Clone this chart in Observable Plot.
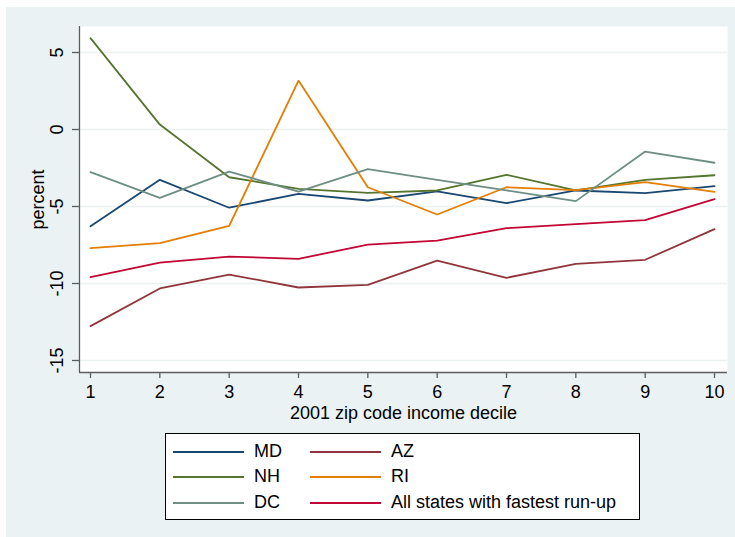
<!DOCTYPE html>
<html>
<head>
<meta charset="utf-8">
<script src="https://cdn.jsdelivr.net/npm/d3@7"></script>
<script src="https://cdn.jsdelivr.net/npm/@observablehq/plot@0.6"></script>
<style>
  html, body { margin: 0; padding: 0; background: #ffffff; }
  #page { position: absolute; left: 0; top: 0; width: 735px; height: 537px; background: #ffffff; overflow: hidden; }
  #bg { position: absolute; left: 6px; top: 7px; width: 729px; height: 530px; background: #eaf2f3; font-family: "Liberation Sans", Arial, sans-serif; }
  #chart { position: absolute; left: 0; top: 0; }
  #legend { position: absolute; left: 159px; top: 426px; width: 475px; height: 87px; box-sizing: border-box; border: 1px solid #000; background: #fff; }
  .lg-line { position: absolute; height: 2px; }
  .lg-text { position: absolute; font-size: 18px; line-height: 20px; color: #000; white-space: nowrap; }
</style>
</head>
<body>
<div id="page"><div id="bg"><div id="chart"></div><div id="legend"></div></div></div>
<script>
// ---- data ----
const deciles = [1, 2, 3, 4, 5, 6, 7, 8, 9, 10];
const seriesNames = ["MD", "AZ", "NH", "RI", "DC", "All states with fastest run-up"];
const seriesColors = ["#1a476f", "#90353b", "#55752f", "#e37e00", "#6e8e84", "#c10534"];
const md  = [-6.28, -3.27, -5.08, -4.18, -4.61, -4.02, -4.78, -3.96, -4.13, -3.68];
const az  = [-12.77, -10.32, -9.42, -10.26, -10.09, -8.51, -9.63, -8.72, -8.46, -6.47];
const nh  = [5.93, 0.32, -3.10, -3.85, -4.11, -3.96, -2.94, -3.96, -3.27, -2.97];
const ri  = [-7.70, -7.38, -6.26, 3.18, -3.75, -5.52, -3.75, -3.94, -3.42, -4.05];
const dc  = [-2.77, -4.44, -2.73, -4.03, -2.58, -3.27, -3.96, -4.65, -1.43, -2.16];
const allStates = [-9.59, -8.64, -8.25, -8.40, -7.47, -7.21, -6.41, -6.15, -5.89, -4.52];
const seriesValues = [md, az, nh, ri, dc, allStates];
const yTicks = [5, 0, -5, -10, -15];
const xTicks = deciles;
const xTitle = "2001 zip code income decile";
const yTitle = "percent";

// long table
const rows = [];
seriesNames.forEach((name, i) => {
  deciles.forEach((d, j) => rows.push({series: name, decile: d, value: seriesValues[i][j]}));
});

const xDomain = [0.8413, 10.1875];
const yDomain = [-15.779, 6.688];
const axisColor = "#5c5c5c";
const font = 18;

const plot = Plot.plot({
  width: 729,
  height: 420,
  marginLeft: 73,
  marginRight: 8,
  marginTop: 19,
  marginBottom: 55,
  style: {background: "transparent", fontFamily: "'Liberation Sans', Arial, sans-serif", fontSize: font + "px", color: "#000"},
  x: {domain: xDomain},
  y: {domain: yDomain},
  color: {domain: seriesNames, range: seriesColors},
  marks: [
    Plot.frame({fill: "#ffffff", stroke: "none"}),
    Plot.ruleY(yTicks, {stroke: "#eaf2f3", strokeWidth: 1.6}),
    Plot.line(rows, {x: "decile", y: "value", z: "series", stroke: "series", strokeWidth: 1.8, strokeLinejoin: "miter"}),
    Plot.ruleX([xDomain[0]], {stroke: axisColor, strokeWidth: 1.3}),
    Plot.ruleY([yDomain[0]], {stroke: axisColor, strokeWidth: 1.3}),
    Plot.axisY({ticks: yTicks, tickSize: 7, tickFormat: () => "", label: null, stroke: axisColor, strokeWidth: 1.3}),
    Plot.axisX({ticks: xTicks, tickSize: 6, tickPadding: 7, tickFormat: d => String(d), label: null, stroke: axisColor, strokeWidth: 1.3, fontSize: font, fill: "#000"}),
    Plot.text(yTicks, {y: d => d, text: d => String(d), frameAnchor: "left", dx: -22, rotate: -90, textAnchor: "middle", lineAnchor: "middle", fontSize: font, fill: "#000"}),
    Plot.text([yTitle], {text: d => d, frameAnchor: "left", dx: -41, rotate: -90, textAnchor: "middle", lineAnchor: "middle", fontSize: font, fill: "#000"}),
    Plot.text([xTitle], {text: d => d, frameAnchor: "bottom", dy: 41, textAnchor: "middle", lineAnchor: "middle", fontSize: font, fill: "#000"})
  ]
});
document.getElementById("chart").appendChild(plot);

// legend (Stata row-major, 2 columns: MD AZ / NH RI / DC All)
const legend = d3.select("#legend");
const rowY = [18, 43.3, 69];
seriesNames.forEach((name, i) => {
  const col = i % 2, row = Math.floor(i / 2);
  const lineX = col === 0 ? 6.5 : 144;
  const textX = col === 0 ? 88 : 225;
  legend.append("div").attr("class", "lg-line")
    .style("left", lineX + "px").style("top", (rowY[row] - 1) + "px")
    .style("width", "71px").style("background", seriesColors[i]);
  legend.append("div").attr("class", "lg-text")
    .style("left", textX + "px").style("top", (rowY[row] - 11) + "px")
    .text(name);
});
</script>
</body>
</html>
